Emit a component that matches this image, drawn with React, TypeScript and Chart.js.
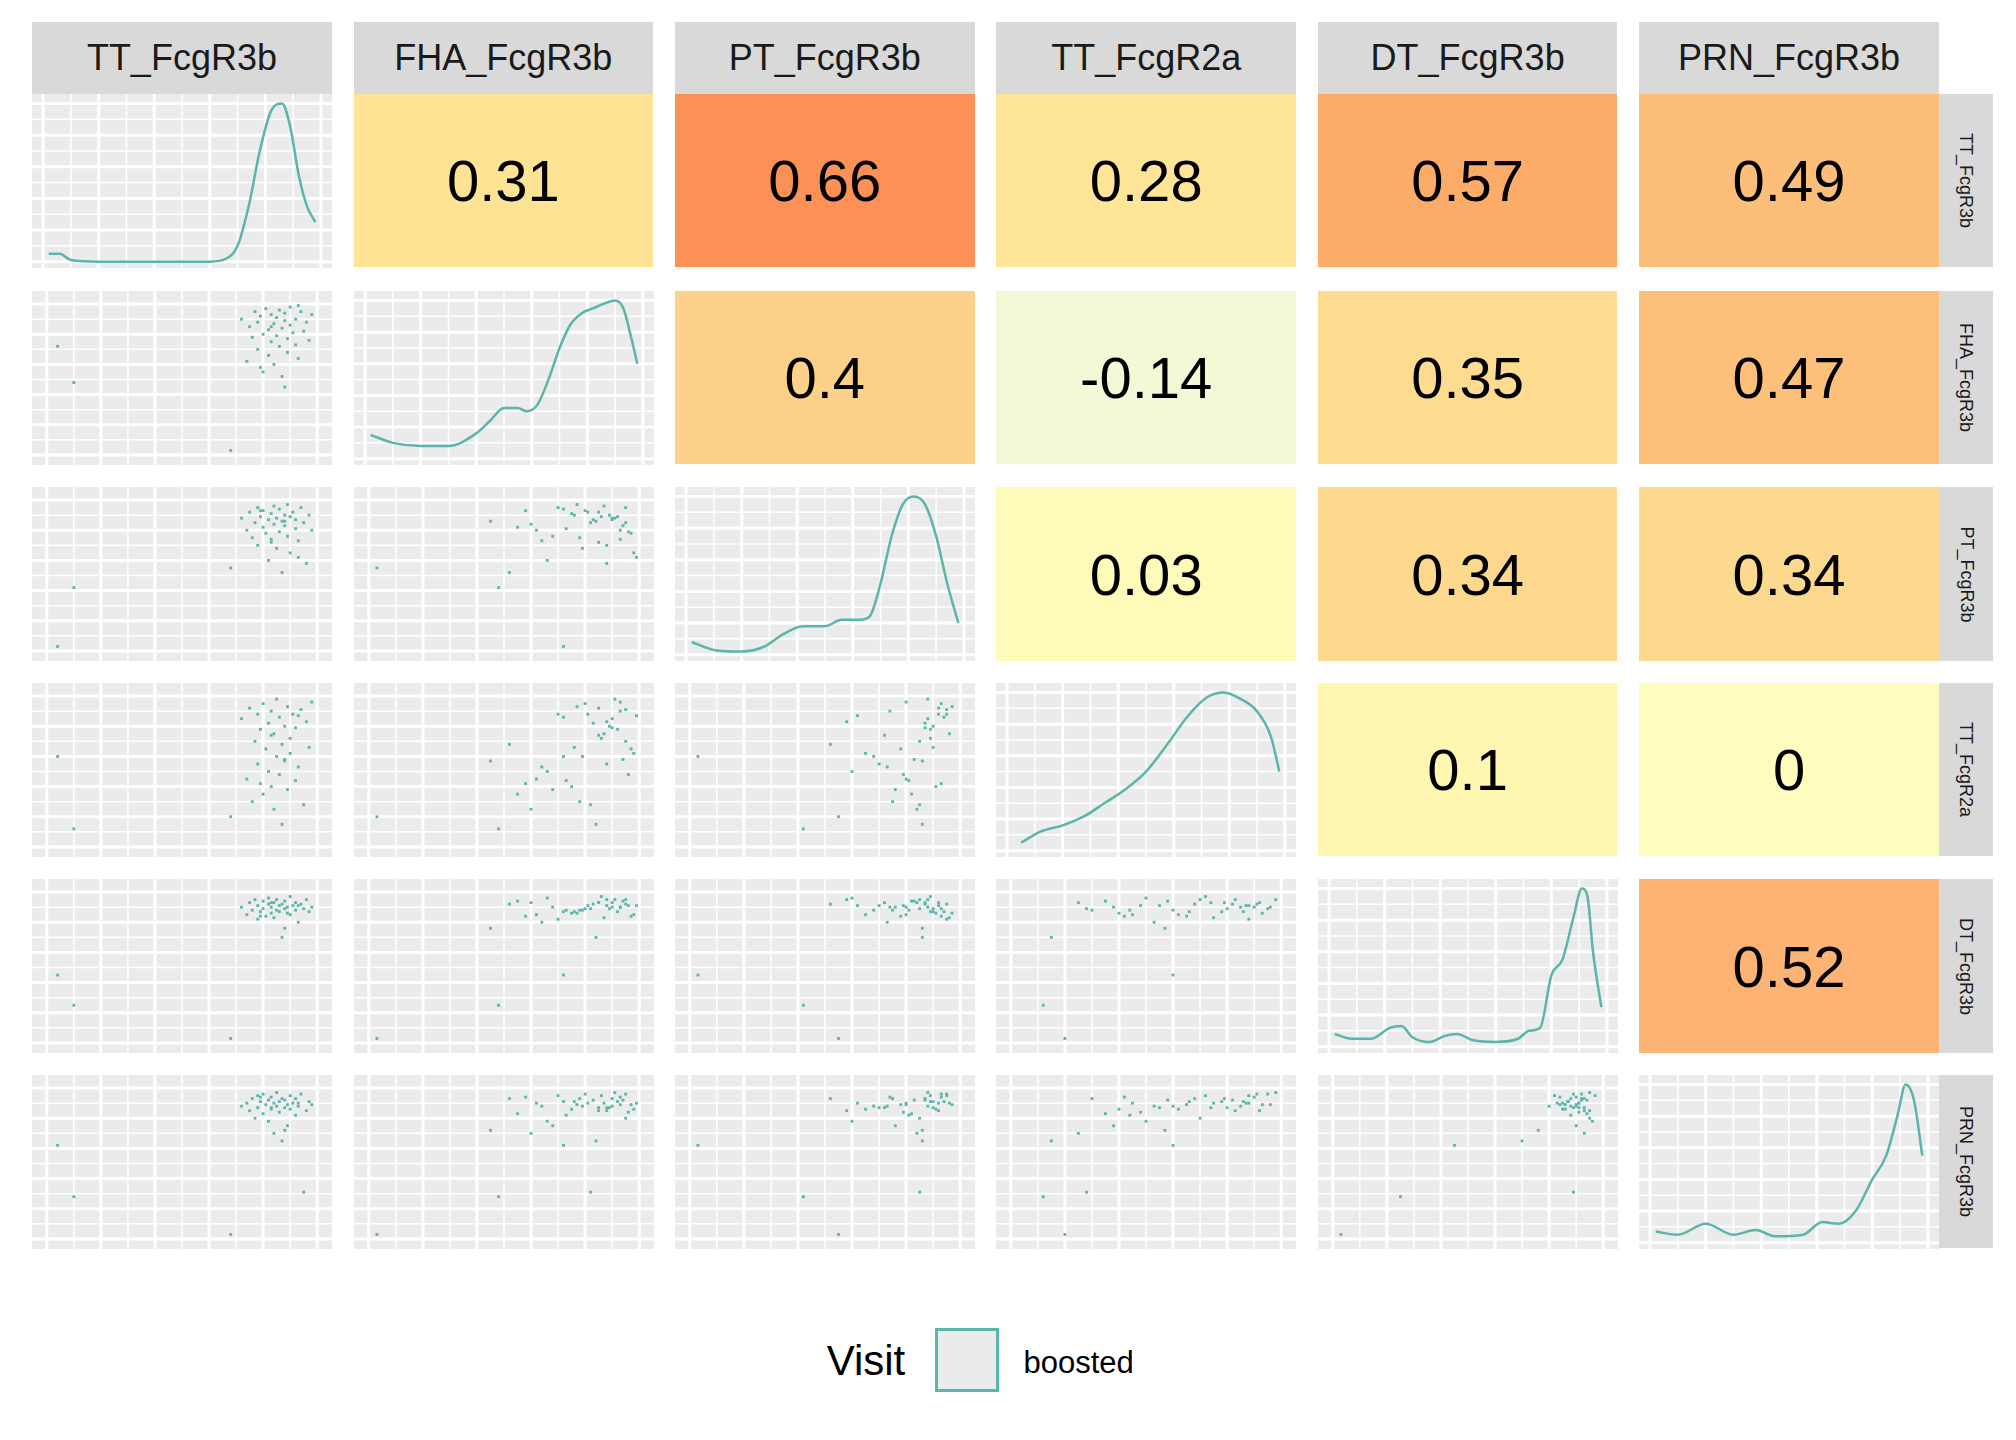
import React, { useEffect, useRef } from "react";
import { Chart, registerables } from "chart.js";
Chart.register(...registerables);

const VARS = ["TT_FcgR3b", "FHA_FcgR3b", "PT_FcgR3b", "TT_FcgR2a", "DT_FcgR3b", "PRN_FcgR3b"];

const TT = [0.04,0.10,0.68,0.72,0.74,0.75,0.76,0.77,0.78,0.78,0.79,0.80,0.80,0.81,0.82,0.82,0.83,0.83,0.84,0.84,0.85,0.85,0.86,0.86,0.87,0.87,0.88,0.88,0.89,0.89,0.90,0.90,0.91,0.92,0.92,0.93,0.94,0.95,0.96,0.97,0.98,0.79,0.83,0.88,0.93];
const FHA = [0.72,0.48,0.03,0.90,0.62,0.85,0.78,0.95,0.70,0.88,0.92,0.55,0.80,0.97,0.66,0.83,0.75,0.93,0.60,0.87,0.79,0.91,0.96,0.72,0.84,0.52,0.89,0.94,0.77,0.68,0.86,0.98,0.81,0.73,0.90,0.64,0.95,0.82,0.88,0.76,0.93,0.58,0.85,0.45,0.99];
const PT = [0.03,0.42,0.55,0.88,0.80,0.92,0.75,0.85,0.95,0.70,0.89,0.82,0.93,0.78,0.60,0.87,0.91,0.74,0.84,0.96,0.68,0.88,0.79,0.94,0.86,0.52,0.90,0.83,0.97,0.76,0.89,0.65,0.92,0.81,0.87,0.73,0.95,0.85,0.58,0.90,0.80,0.93,0.72,0.86,0.62];
const TT2A = [0.60,0.12,0.20,0.85,0.45,0.92,0.30,0.70,0.88,0.55,0.78,0.35,0.95,0.65,0.50,0.82,0.40,0.90,0.25,0.75,0.60,0.98,0.48,0.86,0.15,0.68,0.80,0.58,0.93,0.38,0.72,0.62,0.88,0.44,0.79,0.53,0.91,0.28,0.83,0.66,0.96,0.42,0.74,0.57,0.87];
const DT = [0.45,0.25,0.03,0.90,0.85,0.93,0.88,0.95,0.82,0.91,0.87,0.94,0.89,0.84,0.96,0.92,0.86,0.90,0.93,0.83,0.88,0.95,0.91,0.87,0.70,0.92,0.89,0.94,0.86,0.90,0.97,0.85,0.91,0.88,0.93,0.80,0.92,0.89,0.95,0.87,0.90,0.84,0.93,0.76,0.91];
const PRN = [0.62,0.28,0.03,0.88,0.90,0.85,0.93,0.80,0.95,0.87,0.91,0.83,0.96,0.89,0.78,0.92,0.86,0.94,0.70,0.90,0.88,0.97,0.84,0.91,0.65,0.93,0.87,0.92,0.89,0.75,0.95,0.86,0.90,0.82,0.93,0.88,0.96,0.31,0.85,0.91,0.89,0.94,0.87,0.72,0.90];
const VALUES = [TT, FHA, PT, TT2A, DT, PRN];

const GRID_MAJOR = [0, 0.2, 0.4, 0.6, 0.8, 1.0];
const GRID_MINOR = [0.1, 0.3, 0.5, 0.7, 0.9];

const DENS_X = [
  [0.02,0.06,0.10,0.20,0.30,0.40,0.50,0.60,0.66,0.70,0.74,0.78,0.82,0.86,0.89,0.92,0.95,0.98],
  [0.02,0.1,0.2,0.3,0.4,0.45,0.5,0.55,0.58,0.62,0.66,0.70,0.74,0.78,0.82,0.86,0.90,0.93,0.96,0.98],
  [0.02,0.1,0.2,0.28,0.35,0.42,0.5,0.56,0.62,0.66,0.70,0.74,0.78,0.82,0.86,0.9,0.94,0.98],
  [0.05,0.12,0.2,0.28,0.35,0.42,0.5,0.58,0.65,0.72,0.78,0.84,0.9,0.95,0.98],
  [0.02,0.08,0.15,0.22,0.26,0.30,0.36,0.42,0.46,0.52,0.6,0.68,0.72,0.76,0.80,0.84,0.88,0.91,0.93,0.95,0.98],
  [0.02,0.1,0.2,0.3,0.38,0.45,0.55,0.62,0.68,0.74,0.8,0.85,0.89,0.92,0.95,0.98],
];
const DENS_Y = [
  [0.05,0.05,0.01,0,0,0,0,0,0.02,0.1,0.35,0.7,0.95,1.0,0.85,0.55,0.35,0.25],
  [0.15,0.1,0.08,0.08,0.16,0.24,0.32,0.32,0.30,0.34,0.5,0.7,0.85,0.92,0.95,0.98,1.0,0.95,0.75,0.6],
  [0.08,0.03,0.02,0.05,0.13,0.18,0.18,0.22,0.22,0.24,0.45,0.75,0.95,1.0,0.95,0.75,0.45,0.2],
  [0.05,0.12,0.16,0.22,0.3,0.38,0.5,0.68,0.85,0.97,1.0,0.96,0.88,0.72,0.5],
  [0.08,0.05,0.05,0.12,0.13,0.06,0.03,0.07,0.08,0.04,0.03,0.05,0.1,0.12,0.45,0.55,0.82,1.0,0.95,0.6,0.25],
  [0.07,0.05,0.12,0.05,0.08,0.04,0.05,0.13,0.12,0.2,0.4,0.55,0.8,1.0,0.9,0.55],
];

const CORR: (string | null)[][] = [
  [null, "0.31", "0.66", "0.28", "0.57", "0.49"],
  [null, null, "0.4", "-0.14", "0.35", "0.47"],
  [null, null, null, "0.03", "0.34", "0.34"],
  [null, null, null, null, "0.1", "0"],
  [null, null, null, null, null, "0.52"],
];
const CORR_COLORS: (string | null)[][] = [
  [null, "#FEE394", "#FC9157", "#FEE597", "#FCAB69", "#FDBE79"],
  [null, null, "#FDD18A", "#F2F9D6", "#FDDB90", "#FDC07A"],
  [null, null, null, "#FEFBBA", "#FDD98F", "#FDD98F"],
  [null, null, null, null, "#FEF6B1", "#FFFDBD"],
  [null, null, null, null, null, "#FCB373"],
];

const TEAL = "#5AB5AA";
const S = 2016 / 1568;
const COL_L = [25, 275, 525, 775, 1025, 1275].map((v) => v * S);
const COL_W = 233 * S;
const ROW_T = [73, 226, 379, 531, 684, 836].map((v) => v * S);
const ROW_H = 135 * S;

const bgPlugin = {
  id: "panelBg",
  beforeDatasetsDraw(chart: any) {
    const { ctx, width, height, scales } = chart;
    ctx.save();
    ctx.fillStyle = "#EBEBEB";
    ctx.fillRect(0, 0, width, height);
    ctx.strokeStyle = "#FFFFFF";
    const draw = (vals: number[], lw: number) => {
      ctx.lineWidth = lw;
      vals.forEach((v) => {
        const px = scales.x.getPixelForValue(v);
        ctx.beginPath(); ctx.moveTo(px, 0); ctx.lineTo(px, height); ctx.stroke();
        const py = scales.y.getPixelForValue(v);
        ctx.beginPath(); ctx.moveTo(0, py); ctx.lineTo(width, py); ctx.stroke();
      });
    };
    draw(GRID_MINOR, 1.5);
    draw(GRID_MAJOR, 3);
    ctx.restore();
  },
};

const axisOpts = (lo: number, hi: number) => ({
  type: "linear", min: lo, max: hi, display: false,
});

function Panel({ r, c }: { r: number; c: number }) {
  const ref = useRef<HTMLCanvasElement>(null);
  useEffect(() => {
    let cfg: any;
    if (r === c) {
      cfg = {
        type: "line",
        data: {
          datasets: [{
            data: DENS_X[r].map((x, i) => ({ x, y: DENS_Y[r][i] })),
            borderColor: TEAL, borderWidth: 2.5, pointRadius: 0, cubicInterpolationMode: "monotone",
          }],
        },
      };
    } else {
      cfg = {
        type: "scatter",
        data: {
          datasets: [{
            data: VALUES[c].map((x, i) => ({ x, y: VALUES[r][i] })),
            backgroundColor: TEAL, borderWidth: 0, pointStyle: "rect", pointRadius: 2,
          }],
        },
      };
    }
    cfg.options = {
      responsive: false, animation: false,
      layout: { padding: 0 },
      plugins: { legend: { display: false }, tooltip: { enabled: false } },
      scales: { x: axisOpts(-0.04, 1.04), y: axisOpts(-0.04, 1.06) },
    };
    cfg.plugins = [bgPlugin];
    const ch = new Chart(ref.current!, cfg);
    return () => ch.destroy();
  }, [r, c]);
  return (
    <canvas ref={ref} width={Math.round(COL_W)} height={Math.round(ROW_H)}
      style={{ position: "absolute", left: COL_L[c], top: ROW_T[r], width: Math.round(COL_W), height: Math.round(ROW_H) }} />
  );
}

export default function App() {
  const items: any[] = [];
  VARS.forEach((v, c) => {
    items.push(
      <div key={"s" + c} style={{ position: "absolute", left: COL_L[c], top: 17 * S, width: COL_W, height: 56 * S, background: "#D9D9D9", display: "flex", alignItems: "center", justifyContent: "center", fontSize: 36, color: "#1A1A1A" }}>{v}</div>
    );
  });
  VARS.forEach((v, r) => {
    items.push(
      <div key={"rs" + r} style={{ position: "absolute", left: 1508 * S, top: ROW_T[r], width: 42 * S, height: ROW_H, background: "#D9D9D9", display: "flex", alignItems: "center", justifyContent: "center" }}>
        <div style={{ transform: "rotate(90deg)", fontSize: 18, color: "#1A1A1A", whiteSpace: "nowrap" }}>{v}</div>
      </div>
    );
  });
  for (let r = 0; r < 6; r++) {
    for (let c = 0; c < 6; c++) {
      if (c > r) {
        items.push(
          <div key={`c${r}${c}`} style={{ position: "absolute", left: COL_L[c], top: ROW_T[r], width: COL_W, height: ROW_H, background: CORR_COLORS[r][c]!, display: "flex", alignItems: "center", justifyContent: "center", fontSize: 58, color: "#000" }}>{CORR[r][c]}</div>
        );
      } else {
        items.push(<Panel key={`p${r}${c}`} r={r} c={c} />);
      }
    }
  }
  return (
    <div style={{ position: "absolute", left: 0, top: 0, width: 2016, height: 1440, background: "#fff", fontFamily: "Liberation Sans, Arial, sans-serif" }}>
      {items}
      <div style={{ position: "absolute", left: 643 * S, top: 1040 * S, fontSize: 42, color: "#000" }}>Visit</div>
      <div style={{ position: "absolute", left: 727 * S, top: 1033 * S, width: 50 * S - 6, height: 50 * S - 6, border: `3px solid ${TEAL}`, background: "#EBEBEB" }} />
      <div style={{ position: "absolute", left: 796 * S, top: 1046 * S, fontSize: 31, color: "#000" }}>boosted</div>
    </div>
  );
}
